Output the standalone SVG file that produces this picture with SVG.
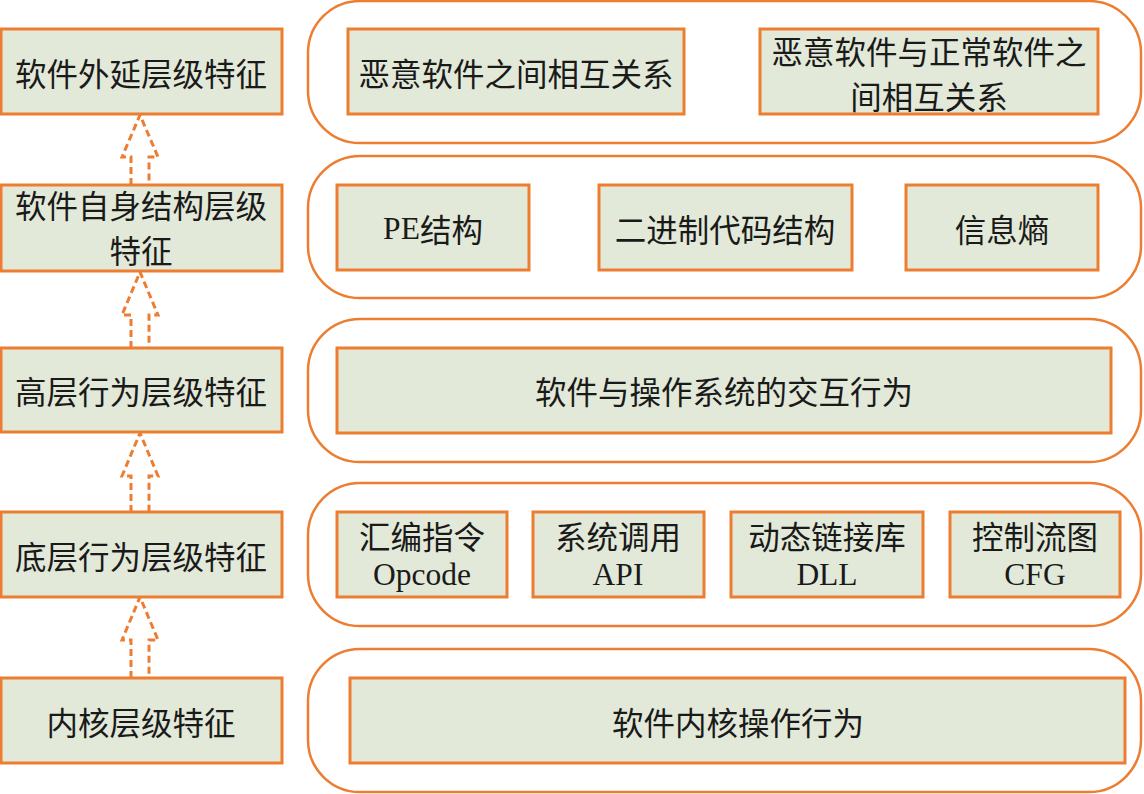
<svg xmlns="http://www.w3.org/2000/svg" width="1144" height="794" viewBox="0 0 1144 794">
<style>
.bx{fill:#e3e9d8;stroke:#ed7d31;stroke-width:3}
.ct{fill:#ffffff;stroke:#ed7d31;stroke-width:2.5}
.t{font-family:"Noto Sans CJK SC","Noto Sans",sans-serif;font-size:31.5px;fill:#1a1a1a;text-anchor:middle;dominant-baseline:central}
.s{font-family:"Liberation Serif",serif}
.ar{fill:none;stroke:#ed7d31;stroke-width:3;stroke-dasharray:7 4;stroke-linejoin:miter}
</style>
<rect width="1144" height="794" fill="#ffffff"/>
<g id="containers">
<rect class="ct" x="308" y="1" width="833" height="142" rx="52"/>
<rect class="ct" x="308" y="156" width="833" height="142" rx="52"/>
<rect class="ct" x="308" y="319" width="833" height="143" rx="52"/>
<rect class="ct" x="308" y="483" width="833" height="143" rx="52"/>
<rect class="ct" x="308" y="649" width="833" height="143" rx="52"/>
</g>
<g id="connectors">
<path class="ar" d="M131,185 V157 H122 L140,115 L158,157 H149 V185"/>
<path class="ar" d="M131,348 V315 H122 L140,272 L158,315 H149 V348"/>
<path class="ar" d="M131,512 V476 H122 L140,433 L158,476 H149 V512"/>
<path class="ar" d="M131,678 V640 H122 L140,597 L158,640 H149 V678"/>
</g>
<g id="level1"><rect class="bx" x="1" y="29" width="281" height="85"/><text class="t" x="141" y="72">软件外延层级特征</text></g>
<g id="level2"><rect class="bx" x="1" y="185" width="281" height="86"/><text class="t" x="141" y="204">软件自身结构层级</text><text class="t" x="141" y="249">特征</text></g>
<g id="level3"><rect class="bx" x="1" y="348" width="281" height="84"/><text class="t" x="141" y="390">高层行为层级特征</text></g>
<g id="level4"><rect class="bx" x="1" y="512" width="281" height="85"/><text class="t" x="141" y="555">底层行为层级特征</text></g>
<g id="level5"><rect class="bx" x="1" y="678" width="281" height="85"/><text class="t" x="141" y="721">内核层级特征</text></g>
<g id="r1a"><rect class="bx" x="348" y="29" width="336" height="85"/><text class="t" x="516" y="72">恶意软件之间相互关系</text></g>
<g id="r1b"><rect class="bx" x="760" y="29" width="338" height="85"/><text class="t" x="929" y="50">恶意软件与正常软件之</text><text class="t" x="929" y="95">间相互关系</text></g>
<g id="r2a"><rect class="bx" x="337" y="185" width="192" height="85"/><text class="t" x="433" y="228"><tspan class="s">PE</tspan>结构</text></g>
<g id="r2b"><rect class="bx" x="599" y="185" width="253" height="85"/><text class="t" x="725" y="228">二进制代码结构</text></g>
<g id="r2c"><rect class="bx" x="906" y="185" width="192" height="85"/><text class="t" x="1002" y="228">信息熵</text></g>
<g id="r3"><rect class="bx" x="337" y="348" width="774" height="85"/><text class="t" x="724" y="390">软件与操作系统的交互行为</text></g>
<g id="r4a"><rect class="bx" x="337" y="512" width="170" height="85"/><text class="t" x="422" y="535">汇编指令</text><text class="t s" x="422" y="574">Opcode</text></g>
<g id="r4b"><rect class="bx" x="533" y="512" width="171" height="85"/><text class="t" x="618" y="535">系统调用</text><text class="t s" x="618" y="574">API</text></g>
<g id="r4c"><rect class="bx" x="731" y="512" width="192" height="85"/><text class="t" x="827" y="535">动态链接库</text><text class="t s" x="827" y="574">DLL</text></g>
<g id="r4d"><rect class="bx" x="950" y="512" width="170" height="85"/><text class="t" x="1035" y="535">控制流图</text><text class="t s" x="1035" y="574">CFG</text></g>
<g id="r5"><rect class="bx" x="350" y="678" width="775" height="85"/><text class="t" x="738" y="721">软件内核操作行为</text></g>
</svg>
